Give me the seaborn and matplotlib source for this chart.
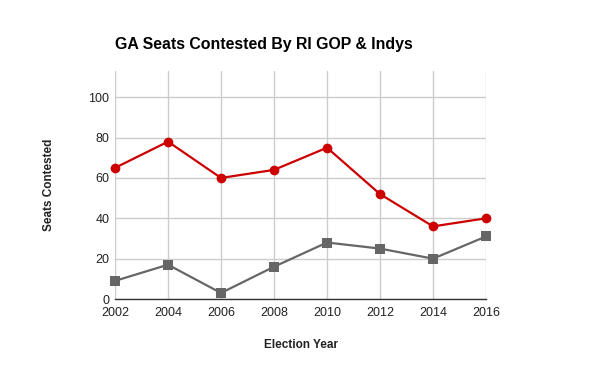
import matplotlib
matplotlib.use("Agg")
import matplotlib.pyplot as plt
import pandas as pd
import seaborn as sns

years = [2002, 2004, 2006, 2008, 2010, 2012, 2014, 2016]
gop_seats = [65, 78, 60, 64, 75, 52, 36, 40]
indy_seats = [9, 17, 3, 16, 28, 25, 20, 31]
series_names = ["RI GOP", "Indys"]
series_colors = ["#cc0000", "#666666"]
series_markers = ["o", "s"]

df = pd.concat([
    pd.DataFrame({"year": years, "seats": gop_seats, "series": series_names[0]}),
    pd.DataFrame({"year": years, "seats": indy_seats, "series": series_names[1]}),
])

sns.set_theme(style="white")
plt.rcParams["font.family"] = ["Liberation Sans", "DejaVu Sans"]

fig = plt.figure(figsize=(6, 3.71), dpi=100)
ax = fig.add_axes([0.1917, 0.194, 0.81 - 0.1917, 0.8086 - 0.194])

sns.lineplot(data=df, x="year", y="seats", hue="series", style="series",
             palette=dict(zip(series_names, series_colors)),
             markers=dict(zip(series_names, series_markers)), dashes=False,
             linewidth=1.6, markersize=7, markeredgewidth=0, legend=False, ax=ax)
for line in ax.lines:
    line.set_clip_on(False)

ax.set_xlim(2002, 2016)
ax.set_ylim(0, 113)
ax.set_xticks(years)
ax.set_yticks([0, 20, 40, 60, 80, 100])
ax.grid(True, color="#cccccc", linewidth=1)
ax.set_axisbelow(True)
for side in ["top", "right", "left"]:
    ax.spines[side].set_visible(False)
ax.spines["bottom"].set_color("#333333")
ax.spines["bottom"].set_linewidth(1)
ax.tick_params(axis="both", length=0, labelsize=9, colors="#222222", pad=6)
ax.tick_params(axis="y", pad=4)

ax.set_xlabel("Election Year", fontsize=8.5, fontweight="bold", color="#222222", labelpad=14)
ax.set_ylabel("Seats Contested", fontsize=8.5, fontweight="bold", color="#222222", labelpad=24)
fig.text(115 / 600, 1 - 45 / 371, "GA Seats Contested By RI GOP & Indys",
         fontsize=11.4, fontweight="bold", color="#000000", ha="left", va="center")

fig.savefig("out.png", dpi=100)
